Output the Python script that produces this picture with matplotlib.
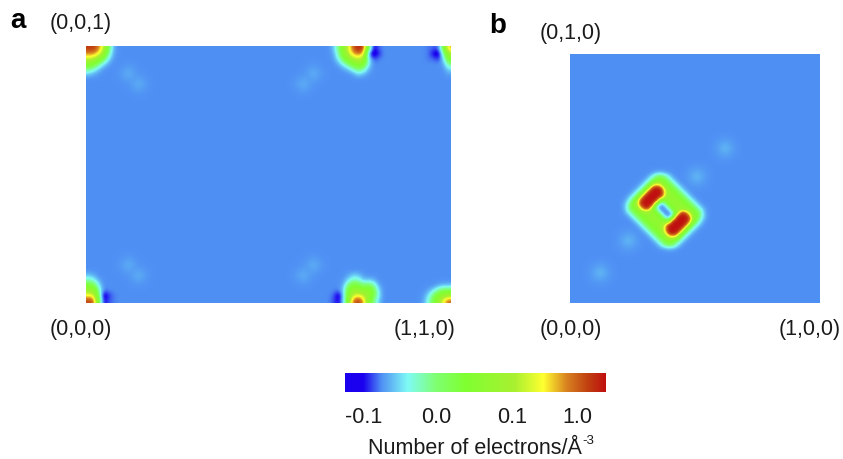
import numpy as np
import matplotlib
matplotlib.use("Agg")
import matplotlib.pyplot as plt
from matplotlib.colors import LinearSegmentedColormap

plt.rcParams['font.family'] = ['Liberation Sans', 'DejaVu Sans']

# Colour-scale position (0-100), cell by cell
BACKGROUND = 14
A_SHAPE = (51, 73)
B_SHAPE = (62, 62)

a_top_left = [
    [94, 94, 86, 70, 40, 17],
    [84, 84, 76, 60, 32, 16],
    [70, 68, 58, 42, 23, 15],
    [54, 48, 36, 23, 16, 14],
    [35, 29, 20, 15, 14, 14],
    [20, 17, 15, 14, 14, 14],
]
a_top_mid = [
    [18, 34, 54, 72, 90, 98, 92, 42, 5, 12],
    [16, 30, 52, 68, 82, 87, 80, 12, 2, 8],
    [15, 24, 42, 56, 66, 70, 62, 24, 10, 13],
    [14, 17, 26, 38, 50, 56, 50, 24, 14, 14],
    [14, 14, 16, 20, 30, 38, 32, 18, 14, 14],
    [14, 14, 14, 14, 16, 22, 18, 15, 14, 14],
]
a_top_right = [
    [13, 12, 11, 44, 82],
    [13, 6, 2, 28, 64],
    [13, 12, 9, 20, 50],
    [14, 14, 14, 16, 34],
    [14, 14, 14, 14, 22],
    [14, 14, 14, 14, 16],
]
a_bottom_left = [
    [19, 17, 14, 14, 14, 14],
    [30, 26, 17, 14, 14, 14],
    [46, 42, 24, 14, 14, 14],
    [60, 58, 32, 13, 14, 14],
    [76, 74, 40, 2, 9, 13],
    [92, 90, 46, 6, 11, 13],
]
a_bottom_mid = [
    [14, 14, 14, 16, 20, 19, 15, 14, 14, 14],
    [14, 14, 15, 22, 30, 28, 19, 20, 18, 14],
    [14, 14, 17, 36, 48, 44, 36, 40, 32, 17],
    [14, 13, 20, 48, 58, 56, 52, 54, 44, 22],
    [12, 3, 18, 52, 70, 76, 68, 56, 42, 24],
    [11, 6, 18, 56, 88, 94, 82, 54, 34, 20],
]
a_bottom_right = [
    [14, 14, 14, 16, 18, 18],
    [14, 16, 22, 32, 40, 40],
    [15, 22, 36, 50, 58, 62],
    [16, 26, 42, 58, 76, 88],
]
b_centre = [
    [14, 14, 14, 14, 14, 14, 14, 15, 17, 18, 16, 15, 14, 14, 14, 14, 14, 14, 14, 14, 14],
    [14, 14, 14, 14, 14, 14, 17, 25, 36, 39, 33, 23, 16, 14, 14, 14, 14, 14, 14, 14, 14],
    [14, 14, 14, 14, 14, 17, 25, 36, 48, 52, 45, 33, 23, 16, 14, 14, 14, 14, 14, 14, 14],
    [14, 14, 14, 14, 17, 25, 36, 70, 80, 70, 52, 45, 33, 23, 16, 14, 14, 14, 14, 14, 14],
    [14, 14, 14, 17, 25, 36, 72, 98, 100, 98, 70, 52, 45, 33, 23, 16, 14, 14, 14, 14, 14],
    [14, 14, 17, 25, 36, 72, 98, 100, 100, 100, 80, 54, 52, 45, 33, 23, 16, 14, 14, 14, 14],
    [14, 17, 25, 36, 72, 98, 100, 100, 100, 98, 70, 54, 54, 52, 45, 33, 23, 16, 14, 14, 14],
    [15, 23, 36, 62, 94, 100, 100, 100, 98, 44, 48, 54, 54, 54, 52, 45, 33, 23, 16, 14, 14],
    [18, 28, 48, 62, 94, 100, 100, 98, 34, 14, 22, 48, 54, 54, 54, 52, 45, 33, 23, 16, 14],
    [17, 30, 45, 52, 72, 94, 94, 54, 24, 13, 13, 24, 48, 54, 54, 54, 52, 45, 33, 23, 16],
    [16, 23, 33, 45, 52, 54, 54, 54, 48, 24, 13, 13, 24, 54, 94, 94, 72, 52, 45, 30, 17],
    [14, 16, 23, 33, 45, 52, 54, 54, 54, 48, 22, 14, 34, 98, 100, 100, 94, 62, 48, 28, 18],
    [14, 14, 16, 23, 33, 45, 52, 54, 54, 54, 48, 44, 98, 100, 100, 100, 94, 62, 36, 23, 15],
    [14, 14, 14, 16, 23, 33, 45, 52, 54, 54, 70, 98, 100, 100, 100, 98, 72, 36, 25, 17, 14],
    [14, 14, 14, 14, 16, 23, 33, 45, 52, 54, 80, 100, 100, 100, 98, 72, 36, 25, 17, 14, 14],
    [14, 14, 14, 14, 14, 16, 23, 33, 45, 52, 70, 98, 100, 98, 72, 36, 25, 17, 14, 14, 14],
    [14, 14, 14, 14, 14, 14, 16, 23, 33, 45, 52, 70, 80, 70, 36, 25, 17, 14, 14, 14, 14],
    [14, 14, 14, 14, 14, 14, 14, 16, 23, 33, 45, 52, 48, 36, 25, 17, 14, 14, 14, 14, 14],
    [14, 14, 14, 14, 14, 14, 14, 14, 16, 23, 33, 39, 36, 25, 17, 14, 14, 14, 14, 14, 14],
    [14, 14, 14, 14, 14, 14, 14, 14, 14, 15, 16, 18, 17, 15, 14, 14, 14, 14, 14, 14, 14],
]
a_faint = [
    [14, 14.3, 14.5, 14.3, 14],
    [14.3, 15, 15.8, 15, 14.3],
    [14.5, 15.8, 17, 15.8, 14.5],
    [14.3, 15, 15.8, 15, 14.3],
    [14, 14.3, 14.5, 14.3, 14],
]
b_faint = [
    [14, 14.2, 14.4, 14.5, 14.4, 14.2, 14],
    [14.2, 14.6, 15, 15.3, 15, 14.6, 14.2],
    [14.4, 15, 16, 16.6, 16, 15, 14.4],
    [14.5, 15.3, 16.6, 18, 16.6, 15.3, 14.5],
    [14.4, 15, 16, 16.6, 16, 15, 14.4],
    [14.2, 14.6, 15, 15.3, 15, 14.6, 14.2],
    [14, 14.2, 14.4, 14.5, 14.4, 14.2, 14],
]
a_faint_rows = [3, 5, 3, 5, 41, 43, 41, 43]
a_faint_cols = [6, 8, 43, 41, 6, 8, 43, 41]
b_faint_rows = [27, 20, 43, 51]
b_faint_cols = [28, 35, 11, 4]

color_positions = [0, 0.07, 0.14, 0.24, 0.35, 0.46, 0.65, 0.76, 0.85, 0.93, 1]
color_values = ['#1a00ee', '#1a00ee', '#4f90f4', '#7ffaf5', '#7fff70', '#7fff30',
                '#a8f030', '#ffff30', '#d88020', '#c04010', '#c00f10']
colorbar_ticks = [7, 35, 64, 89]
colorbar_labels = ['-0.1', '0.0', '0.1', '1.0']


def put(grid, patch, row, col):
    patch = np.asarray(patch, float)
    grid[row:row + patch.shape[0], col:col + patch.shape[1]] = patch


def bump(grid, patch, row, col):
    patch = np.asarray(patch, float)
    view = grid[row:row + patch.shape[0], col:col + patch.shape[1]]
    view[:] = np.maximum(view, patch[:view.shape[0], :view.shape[1]])


grid_a = np.full(A_SHAPE, float(BACKGROUND))
put(grid_a, a_top_left, 0, 0)
put(grid_a, a_top_mid, 0, 49)
put(grid_a, a_top_right, 0, 68)
put(grid_a, a_bottom_left, 45, 0)
put(grid_a, a_bottom_mid, 45, 49)
put(grid_a, a_bottom_right, 47, 67)
for r, c in zip(a_faint_rows, a_faint_cols):
    bump(grid_a, a_faint, r, c)

grid_b = np.full(B_SHAPE, float(BACKGROUND))
put(grid_b, b_centre, 29, 13)
for r, c in zip(b_faint_rows, b_faint_cols):
    bump(grid_b, b_faint, r, c)

W, H = 843, 459
cmap = LinearSegmentedColormap.from_list('density', list(zip(color_positions, color_values)), N=4096)
fig = plt.figure(figsize=(W / 100, H / 100), dpi=100)


def box(x0, y0, x1, y1):
    return [x0 / W, 1 - y1 / H, (x1 - x0) / W, (y1 - y0) / H]


def label(x, y, s, **kw):
    kw.setdefault('fontsize', 15.5)
    kw.setdefault('color', '#1a1a1a')
    fig.text(x / W, 1 - y / H, s, ha='center', va='center', **kw)


ax_a = fig.add_axes(box(86, 46, 451, 303))
im = ax_a.imshow(grid_a, cmap=cmap, vmin=0, vmax=100, aspect='auto', interpolation='bicubic')
ax_a.axis('off')

ax_b = fig.add_axes(box(570, 54, 820, 303))
ax_b.imshow(grid_b, cmap=cmap, vmin=0, vmax=100, aspect='auto', interpolation='bicubic')
ax_b.axis('off')

cax = fig.add_axes(box(345, 373, 606, 392))
cb = fig.colorbar(im, cax=cax, orientation='horizontal', ticks=colorbar_ticks)
cb.set_ticklabels(colorbar_labels)
cb.outline.set_visible(False)
cax.tick_params(length=0, pad=11, labelsize=15.5, labelcolor='#1a1a1a')

label(18, 21, 'a', fontsize=20, fontweight='bold', color='black')
label(498, 26, 'b', fontsize=20, fontweight='bold', color='black')
label(81, 24, '(0,0,1)')
label(571, 33, '(0,1,0)')
label(81, 329, '(0,0,0)')
label(425, 329, '(1,1,0)')
label(571, 329, '(0,0,0)')
label(810, 329, '(1,0,0)')
label(475, 448, 'Number of electrons/Å')
label(588, 441, '-3', fontsize=9.5)

fig.savefig('out.png', dpi=100)
